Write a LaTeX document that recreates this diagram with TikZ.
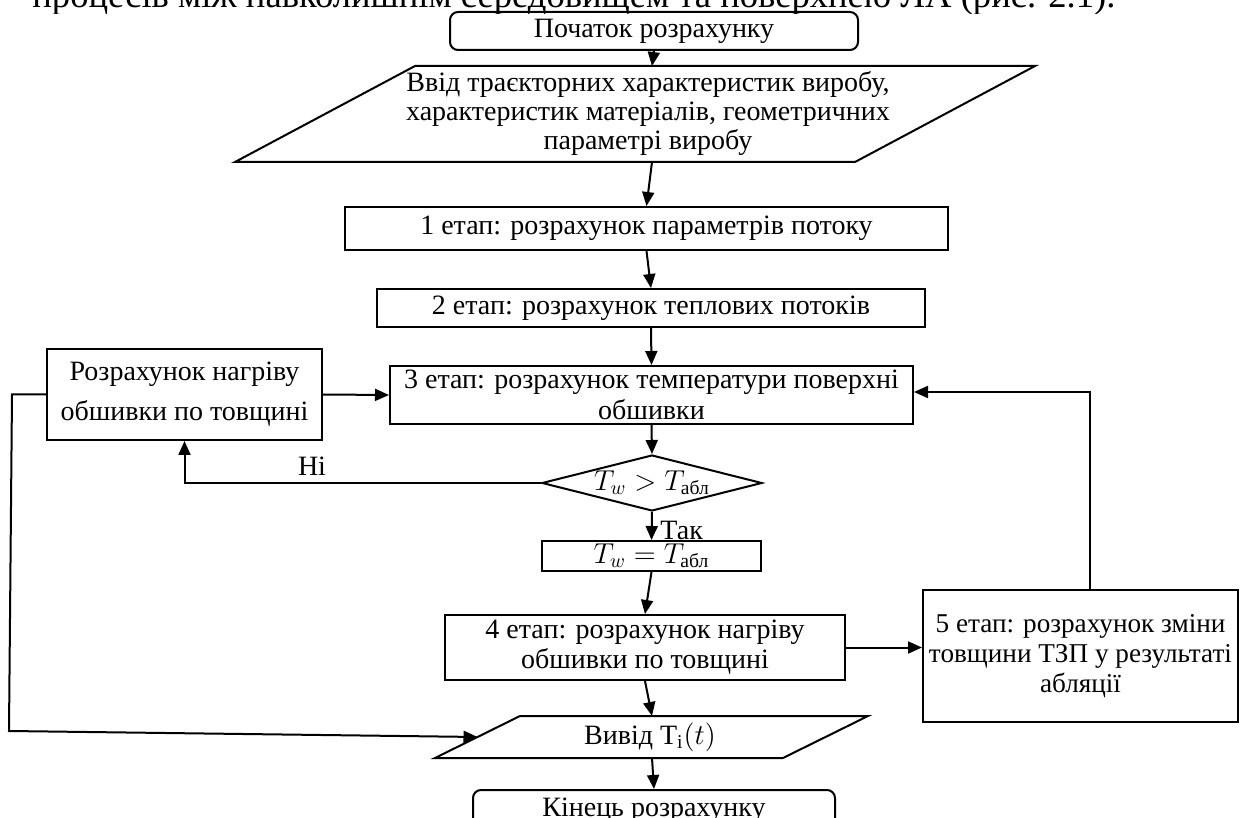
\documentclass[tikz,border=0pt]{standalone}
\usepackage{fontspec}
\setmainfont{Liberation Serif}
\usepackage{amsmath}
\usetikzlibrary{arrows.meta,shapes.geometric}
\begin{document}
\begin{tikzpicture}[x=0.5pt,y=-0.5pt,
  every node/.style={font=\fontsize{14}{15}\selectfont, inner sep=0pt, align=center},
  box/.style={draw, line width=1pt, rectangle},
  rbox/.style={draw, line width=1pt, rectangle, rounded corners=4pt},
  arr/.style={line width=1pt, -{Triangle[length=7pt,width=6pt]}},
  ln/.style={line width=1pt}]
\useasboundingbox (0,0) rectangle (1244,818);
% header (only its lower part shows)
\begin{scope}
\clip (0,0) rectangle (1244,14);
\node[anchor=base west, align=left, font=\fontsize{18.3}{20}\selectfont] (hdr) at (32,8) {процесів між навколишнім середовищем та поверхнею ЛА (рис. 2.1).};
\end{scope}
% start
\node[rbox, minimum width=204pt, minimum height=19pt] (start) at (654,31) {Початок розрахунку};
% input parallelogram
\draw[ln] (415,66) -- (1035,66) -- (855,162) -- (235,162) -- cycle;
\node[font=\fontsize{14}{14.5}\selectfont] (inp) at (648,114) {Ввід траєкторних характеристик виробу,\\характеристик матеріалів, геометричних\\параметрі виробу};
\coordinate (inTop) at (652,66);
\coordinate (inBot) at (652,162);
% boxes
\node[box, minimum width=301.5pt, minimum height=21.5pt] (b1) at (646.5,228.5) {1 етап: розрахунок параметрів потоку};
\node[box, minimum width=274pt, minimum height=19pt] (b2) at (651,308) {2 етап: розрахунок теплових потоків};
\node[box, minimum width=261.5pt, minimum height=29pt, font=\fontsize{14}{15.5}\selectfont] (b3) at (651.5,395) {3 етап: розрахунок температури поверхні\\обшивки};
\node[box, minimum width=137.5pt, minimum height=45.5pt, font=\fontsize{14}{20}\selectfont] (lb) at (184.5,394.5) {Розрахунок нагріву\\обшивки по товщині};
\node[diamond, draw, line width=1pt, shape aspect=4, minimum width=110pt, minimum height=28pt] (dec) at (652,483) {$T_w > T_{\text{абл}}$};
\node[box, minimum width=109.5pt, minimum height=15pt] (tw) at (651.5,556) {$T_w = T_{\text{абл}}$};
\node[box, minimum width=200pt, minimum height=32.5pt] (b4) at (645,647.5) {4 етап: розрахунок нагріву\\обшивки по товщині};
\node[box, minimum width=157.5pt, minimum height=66pt, font=\fontsize{13.6}{15}\selectfont] (b5) at (1080.5,656) {5 етап: розрахунок зміни\\товщини ТЗП у результаті\\абляції};
% output parallelogram
\draw[ln] (520,716) -- (868,716) -- (783,758) -- (435,758) -- cycle;
\node (out) at (650,737) {Вивід $\mathrm{T_i}(t)$};
\coordinate (outTop) at (652,716);
\coordinate (outBot) at (652,758);
\coordinate (outL) at (477.5,737);
% end
\node[rbox, minimum width=181pt, minimum height=20pt] (end) at (654,810) {Кінець розрахунку};
% connectors
\draw[arr] (start.south) -- (inTop);
\draw[arr] (inBot) -- (b1.north);
\draw[arr] (b1.south) -- (b2.north);
\draw[arr] (b2.south) -- (b3.north);
\draw[arr] (lb.east) -- (b3.west);
\draw[arr] (b3.south) -- (dec.north);
\draw[arr] (dec.west) -| (lb.south);
\node[anchor=center] (no) at (312,466) {Ні};
\draw[arr] (dec.south) -- (tw.north);
\node[anchor=west] (yes) at (660,530) {Так};
\draw[arr] (tw.south) -- (b4.north);
\draw[arr] (b4.east) -- (b4.east -| b5.west);
\coordinate (b5top) at ([xshift=4.75pt]b5.north);
\draw[arr] (b5top) |- ([yshift=1.5pt]b3.east);
\draw[arr] (b4.south) -- (outTop);
\coordinate (c1) at (12,394.5);
\coordinate (c2) at (9,731);
\draw[arr] (lb.west) -- (c1) -- (c2) -- (outL);
\draw[arr] (outBot) -- (end.north);
\end{tikzpicture}
\end{document}
